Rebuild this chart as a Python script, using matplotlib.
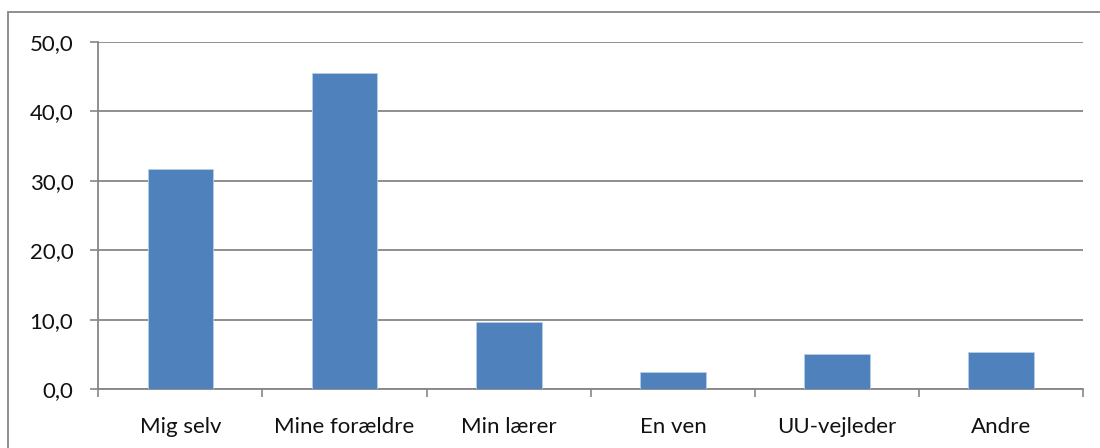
import numpy as np
import matplotlib
matplotlib.use("Agg")
import matplotlib.pyplot as plt
from matplotlib.patches import Rectangle

categories = ["Mig selv", "Mine forældre", "Min lærer", "En ven", "UU-vejleder", "Andre"]
values = [31.7, 45.6, 9.6, 2.5, 5.0, 5.4]
yticks = [0, 10, 20, 30, 40, 50]

plt.rcParams['font.family'] = ['Lato', 'DejaVu Sans']
grey = "#868686"

fig = plt.figure(figsize=(11, 4.48), dpi=100)
ax = fig.add_axes([98.3 / 1100, 1 - 389 / 448, (1083.3 - 98.3) / 1100, (389 - 42) / 448])

x = np.arange(len(categories))
ax.bar(x, values, width=0.4, color="#4F81BD", edgecolor="#B9CDE5", linewidth=0.6, zorder=3)

ax.set_xlim(-0.5, len(categories) - 0.5)
ax.set_ylim(0, 50)
ax.set_yticks(yticks)
ax.set_yticklabels([f"{v:.1f}".replace(".", ",") for v in yticks], fontsize=16, color="#111111")
ax.set_xticks(x)
ax.set_xticklabels(categories, fontsize=16, color="#111111")
ax.set_xticks(np.arange(len(categories) + 1) - 0.5, minor=True)

ax.tick_params(axis="y", length=6, width=1.2, color=grey, pad=12)
ax.tick_params(axis="x", which="major", length=0, pad=20)
ax.tick_params(axis="x", which="minor", length=6, width=1.2, color=grey)

ax.yaxis.grid(True, color=grey, linewidth=1.3, zorder=0)
ax.set_axisbelow(True)
for s in ["top", "right"]:
    ax.spines[s].set_visible(False)
for s in ["left", "bottom"]:
    ax.spines[s].set_color(grey)
    ax.spines[s].set_linewidth(1.3)

# chart area border
fig.patches.append(Rectangle((8 / 1100, -0.05), 1.1, 1 - 12 / 448 + 0.05,
                             transform=fig.transFigure, fill=False,
                             edgecolor=grey, linewidth=1.3))

fig.savefig("out.png", dpi=100)
